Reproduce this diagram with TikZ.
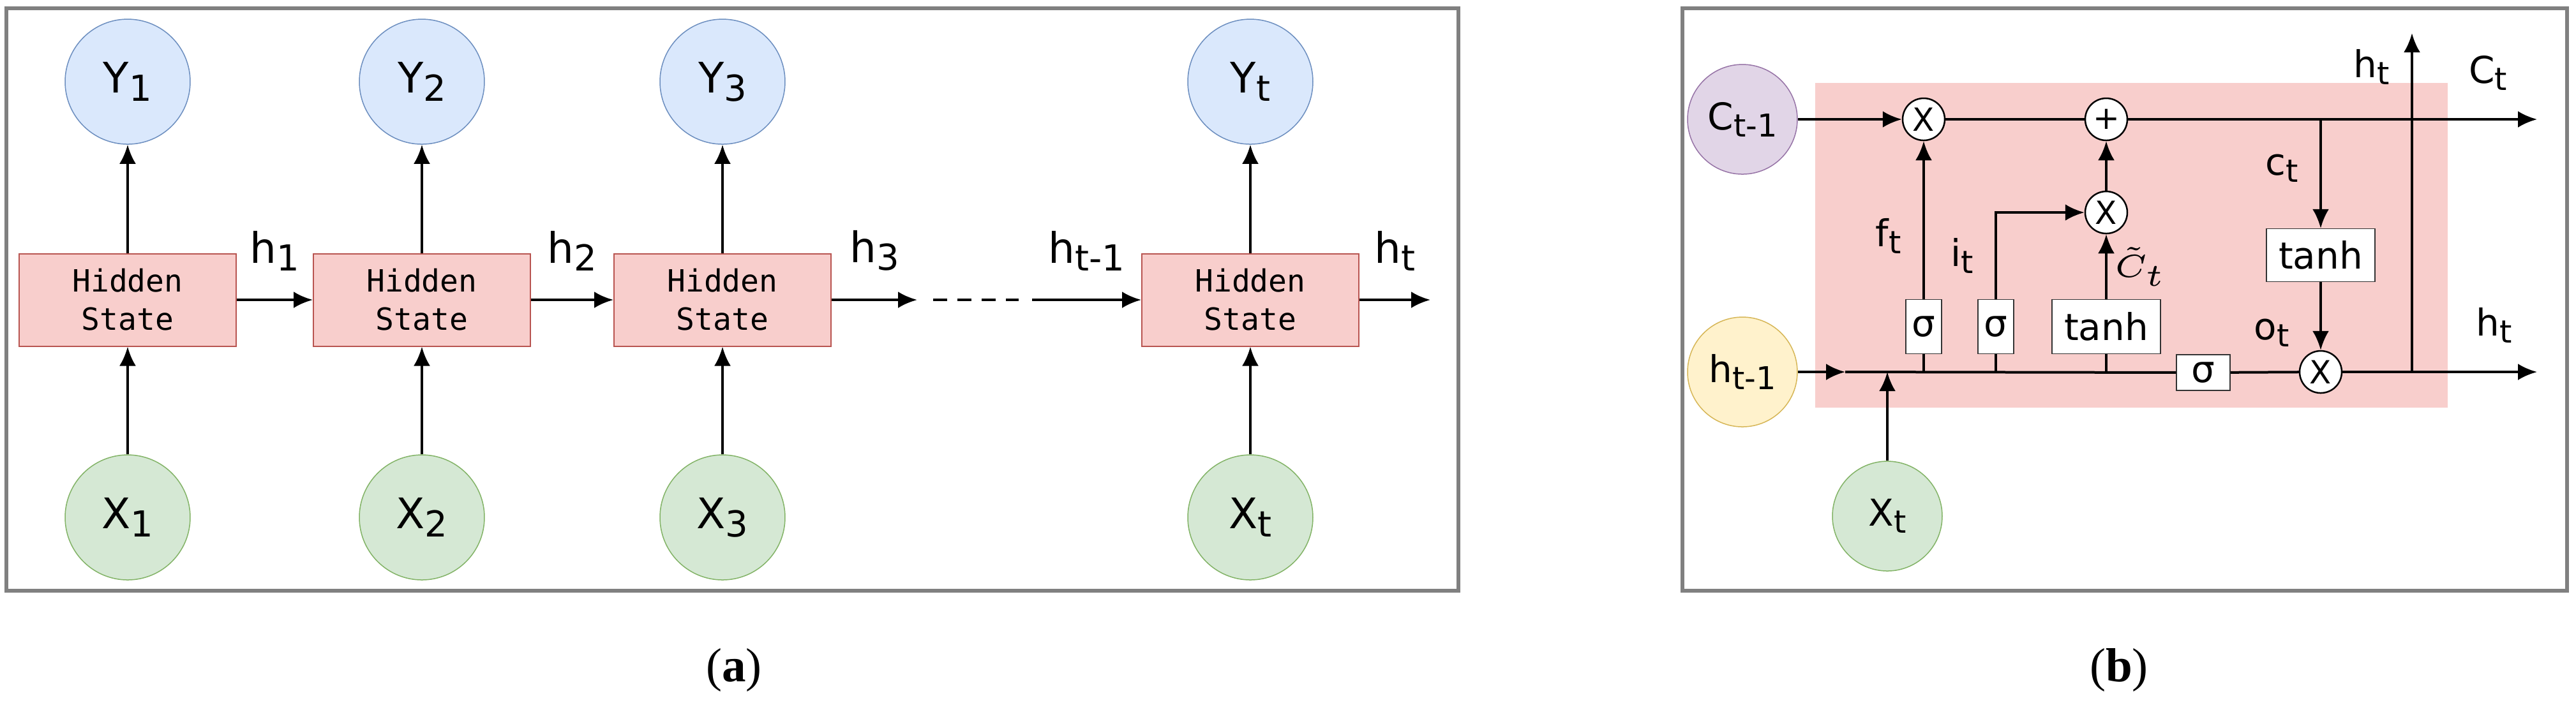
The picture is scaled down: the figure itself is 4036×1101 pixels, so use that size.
\documentclass[tikz,border=0pt]{standalone}
\usepackage{fontspec}
\setmainfont{Liberation Serif}
\newfontfamily\lblf{DejaVu Sans}
\newfontfamily\monof{DejaVu Sans Mono}
\usetikzlibrary{arrows.meta}
\definecolor{bfill}{HTML}{DAE8FC}\definecolor{bdraw}{HTML}{6C8EBF}
\definecolor{gfill}{HTML}{D5E8D4}\definecolor{gdraw}{HTML}{82B366}
\definecolor{pfill}{HTML}{F8CECC}\definecolor{pdraw}{HTML}{B85450}
\definecolor{vfill}{HTML}{E1D5E7}\definecolor{vdraw}{HTML}{9673A6}
\definecolor{yfill}{HTML}{FFF2CC}\definecolor{ydraw}{HTML}{D6B656}
\newcommand{\sbs}[1]{\raisebox{-0.35ex}{\scalebox{0.85}{#1}}}
\begin{document}
\begin{tikzpicture}[x=0.1pt,y=-0.1pt,
  lbl/.style={font=\lblf\fontsize{6.6}{7}\selectfont},
  lblb/.style={font=\lblf\fontsize{5.8}{6}\selectfont},
  circ/.style={circle,draw,line width=0.15pt,minimum size=19.6pt,inner sep=0pt,font=\lblf\fontsize{6.6}{7}\selectfont},
  circb/.style={circle,draw,line width=0.15pt,minimum size=17.2pt,inner sep=0pt,font=\lblf\fontsize{5.8}{6}\selectfont},
  yc/.style={circ,fill=bfill,draw=bdraw},
  xc/.style={circ,fill=gfill,draw=gdraw},
  hs/.style={draw=pdraw,fill=pfill,line width=0.2pt,minimum width=34pt,minimum height=14.5pt,inner sep=0pt,align=center,font=\monof\fontsize{4.8}{6}\selectfont},
  op/.style={circle,draw,fill=white,line width=0.25pt,minimum size=6.6pt,inner sep=0pt,font=\lblf\fontsize{5}{5}\selectfont},
  gate/.style={draw=black!80,fill=white,line width=0.15pt,inner sep=0pt,font=\lblf\fontsize{5.8}{6}\selectfont},
  ar/.style={line width=0.4pt,-{Latex[length=3pt,width=2.6pt]}},
  ln/.style={line width=0.4pt},
  frame/.style={draw=black!50,line width=0.6pt}]
\useasboundingbox (0,0) rectangle (4036,1101);
% ---------- panel (a)
\draw[frame] (10,13) rectangle (2285,926);
\foreach \i/\x/\s in {1/200/1,2/661/2,3/1132/3,t/1959/t}{
  \node[yc] (y\i) at (\x,128) {Y\sbs{\s}};
  \node[xc] (x\i) at (\x,811) {X\sbs{\s}};
  \node[hs] (b\i) at (\x,470) {Hidden\\State};
  \draw[ar] (x\i) -- (b\i);
  \draw[ar] (b\i) -- (y\i);
}
\draw[ar] (b1) -- node[lbl,above=1pt]{h\sbs{1}} (b2);
\draw[ar] (b2) -- node[lbl,above=1pt]{h\sbs{2}} (b3);
\coordinate (h3e) at (1437,470);
\coordinate (d1) at (1462,470);
\coordinate (d2) at (1596,470);
\coordinate (hts) at (1617,470);
\coordinate (hte) at (2241,470);
\draw[ar] (b3) -- node[lbl,above=1pt]{h\sbs{3}} (h3e);
\draw[ln,dash pattern=on 2.2pt off 1.6pt] (d1) -- (d2);
\draw[ar] (hts) -- node[lbl,above=1pt]{h\sbs{t-1}} (bt);
\draw[ar] (bt) -- node[lbl,above=1pt]{h\sbs{t}} (hte);
\node[font=\fontsize{7.5}{8}\selectfont] (capa) at (1150,1050) {(\textbf{a})};
% ---------- panel (b)
\draw[frame] (2636,13) rectangle (4022,926);
\fill[pfill] (2844,130) rectangle (3835,639);
\node[circb,fill=vfill,draw=vdraw] (c) at (2730,187) {C\sbs{t-1}};
\node[circb,fill=yfill,draw=ydraw] (h) at (2730,583) {h\sbs{t-1}};
\node[circb,fill=gfill,draw=gdraw] (x) at (2957,809) {X\sbs{t}};
\node[gate,minimum width=5.6pt,minimum height=8.5pt] (s1) at (3014,512) {σ};
\node[gate,minimum width=5.6pt,minimum height=8.5pt] (s2) at (3127,512) {σ};
\node[gate,minimum width=17pt,minimum height=8.5pt] (t1) at (3300,512) {tanh};
\node[gate,minimum width=8.4pt,minimum height=5.6pt] (s3) at (3452,584) {σ};
\node[gate,minimum width=17pt,minimum height=8.3pt] (t2) at (3636,400) {tanh};
\node[op] (m1) at (3014,187) {X};
\node[op] (p) at (3300,187) {+};
\node[op] (m2) at (3300,333) {X};
\node[op] (m3) at (3636,583) {X};
\coordinate (cend) at (3975,187);
\coordinate (cbr) at (3636,187);
\coordinate (harr) at (2891,583);
\coordinate (hend) at (3975,583);
\coordinate (hv) at (3779,583);
\coordinate (htop) at (3779,52);
\coordinate (xj) at (2957,583);
\coordinate (j1) at (3014,583);
\coordinate (j2) at (3127,583);
\coordinate (j3) at (3300,583);
\draw[ar] (c) -- (m1);
\draw[ln] (m1) -- (p);
\draw[ar] (p) -- node[lblb,pos=0.88,above=1pt]{C\sbs{t}} (cend);
\draw[ar] (cbr) -- node[lblb,left=0pt,pos=0.45]{c\sbs{t}} (t2);
\draw[ar] (t2) -- (m3);
\draw[ar] (h) -- (harr);
\draw[ln] (harr) -- (s3);
\draw[ln] (s3) -- node[lblb,above=0.5pt,pos=0.6]{o\sbs{t}} (m3);
\draw[ar] (m3) -- node[lblb,pos=0.78,above=1pt]{h\sbs{t}} (hend);
\draw[ar] (hv) -- (htop) node[lblb,pos=0.9,left=0pt]{h\sbs{t}};
\draw[ar] (x) -- (xj);
\draw[ln] (j1) -- (s1);
\draw[ar] (s1) -- node[lblb,left=0pt,pos=0.4]{f\sbs{t}} (m1);
\draw[ln] (j2) -- (s2);
\draw[ar] (s2) |- node[lblb,left=0pt,pos=0.25]{i\sbs{t}} (m2);
\draw[ln] (j3) -- (t1);
\draw[ar] (t1) -- node[right=0pt,pos=0.5,inner sep=1pt,font=\fontsize{5.5}{6}\selectfont]{$\tilde{C}_t$} (m2);
\draw[ar] (m2) -- (p);
\node[font=\fontsize{7.5}{8}\selectfont] (capb) at (3320,1050) {(\textbf{b})};
\end{tikzpicture}
\end{document}
